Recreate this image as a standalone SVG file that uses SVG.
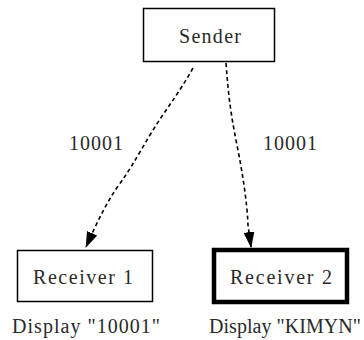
<svg xmlns="http://www.w3.org/2000/svg" width="364" height="340" viewBox="0 0 364 340">
<defs>
<marker id="ah" markerUnits="userSpaceOnUse" markerWidth="16" markerHeight="11" viewBox="0 0 16 11" refX="15" refY="5.5" orient="auto">
<path d="M0,0 L16,5.5 L0,11 Z" fill="#000"/>
</marker>
<style>
.box{fill:#fff;stroke:#000;stroke-width:1.5}
.thick{stroke-width:4.5}
.t{font-family:"Liberation Serif","DejaVu Serif",serif;font-size:20px;fill:#2a2a2a;text-anchor:middle}
.c{fill:none;stroke:#000;stroke-width:1.6;stroke-dasharray:4 3}
</style>
</defs>
<rect width="364" height="340" fill="#fff"/>
<g id="connectors">
<path class="c" d="M193,68 C178,95 165,110 150,135 C135,160 130,170 118,186 C106,204 98,220 86,247" marker-end="url(#ah)"/>
<path class="c" d="M226,63 C228,90 230,110 236,140 C242,170 247,200 248,225 L251,247" marker-end="url(#ah)"/>
<text class="t" x="96" y="150" textLength="54">10001</text>
<text class="t" x="290" y="150" textLength="54">10001</text>
</g>
<g id="sender">
<rect class="box" x="143.5" y="8.5" width="131" height="53"/>
<text class="t" x="210" y="43" textLength="62">Sender</text>
</g>
<g id="receiver1">
<rect class="box" x="17.5" y="250.5" width="135" height="51"/>
<text class="t" x="83" y="284" textLength="100">Receiver 1</text>
<text class="t" x="86" y="333" textLength="148">Display "10001"</text>
</g>
<g id="receiver2">
<rect class="box thick" x="214" y="250" width="133" height="52"/>
<text class="t" x="281" y="284" textLength="102">Receiver 2</text>
<text class="t" x="285" y="333" textLength="152">Display "KIMYN"</text>
</g>
</svg>
